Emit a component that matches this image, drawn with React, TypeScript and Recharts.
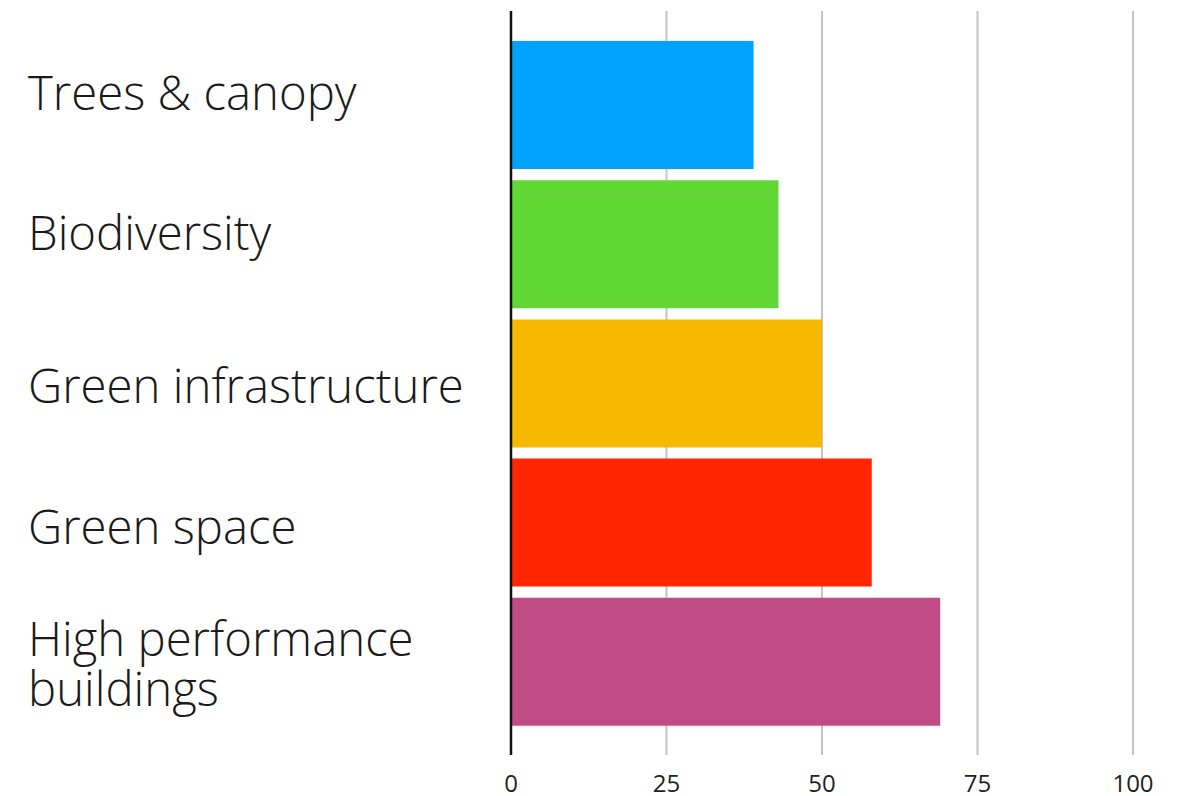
import React from "react";
import { BarChart, Bar, XAxis, YAxis, CartesianGrid, Cell } from "recharts";

const categories = [
  "Trees & canopy",
  "Biodiversity",
  "Green infrastructure",
  "Green space",
  "High performance buildings",
];
const values = [39, 43, 50, 58, 69];
const colors = ["#00A2FF", "#61D836", "#F6B900", "#FF2600", "#C14B85"];
const xTicks = [0, 25, 50, 75, 100];

const data = categories.map((name, i) => ({ name, value: values[i] }));

const FONT = "'Open Sans', 'Noto Sans', sans-serif";
const LABEL_NUDGE = [-12, -11, 2, 4, 2];

function wrap(text: string, max: number): string[] {
  const words = text.split(" ");
  const lines: string[] = [];
  let cur = "";
  for (const w of words) {
    const next = cur ? cur + " " + w : w;
    if (next.length > max && cur) {
      lines.push(cur);
      cur = w;
    } else {
      cur = next;
    }
  }
  if (cur) lines.push(cur);
  return lines;
}

const YTick = (props: any) => {
  const { y, payload, index } = props;
  const lines = wrap(String(payload.value), 20);
  const lineH = 50;
  const capHalf = 17.5;
  const nudge = LABEL_NUDGE[index] ?? 0;
  const first = y + capHalf - ((lines.length - 1) * lineH) / 2 + nudge;
  return (
    <text
      x={28}
      y={first}
      textAnchor="start"
      fontFamily={FONT}
      fontWeight={300}
      fontSize={47.3}
      fill="#1a1a1a"
    >
      {lines.map((l, i) => (
        <tspan key={i} x={28} y={first + i * lineH}>
          {l}
        </tspan>
      ))}
    </text>
  );
};

export default function App() {
  return (
    <div style={{ position: "absolute", left: 0, top: 0, background: "#fff" }}>
      <BarChart
        width={1187}
        height={796}
        data={data}
        layout="vertical"
        margin={{ top: 11, right: 54, bottom: 0, left: 0 }}
        barSize={128}
      >
        <CartesianGrid
          horizontal={false}
          vertical={true}
          stroke="#c4c4c4"
          strokeWidth={2}
        />
        <XAxis
          type="number"
          domain={[0, 100]}
          ticks={xTicks}
          axisLine={false}
          tickLine={false}
          tickSize={0}
          tickMargin={20}
          height={41}
          tick={{ fontFamily: FONT, fontSize: 24, fill: "#222" }}
          interval={0}
        />
        <YAxis
          type="category"
          dataKey="name"
          width={511}
          padding={{ top: 24, bottom: 24 }}
          axisLine={{ stroke: "#111", strokeWidth: 2.5 }}
          tickLine={false}
          tick={<YTick />}
          interval={0}
        />
        <Bar dataKey="value" isAnimationActive={false}>
          {data.map((d, i) => (
            <Cell key={d.name} fill={colors[i]} />
          ))}
        </Bar>
      </BarChart>
    </div>
  );
}
